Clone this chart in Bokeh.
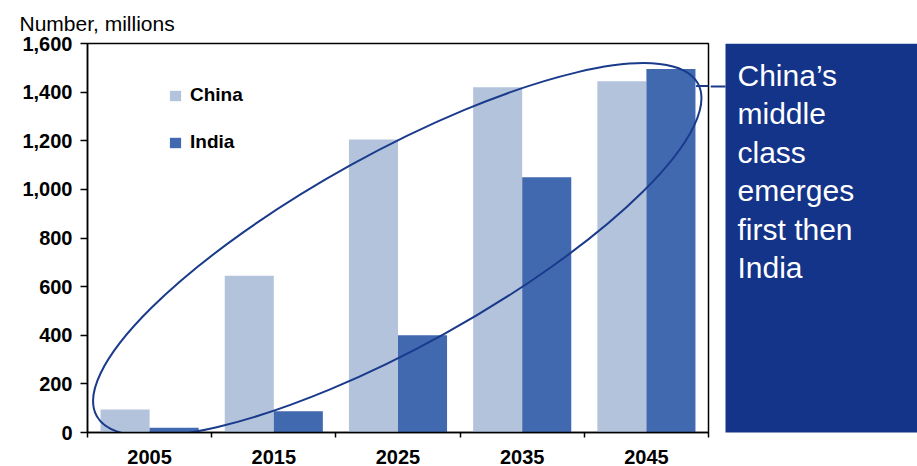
import numpy as np
from bokeh.plotting import figure
from bokeh.layouts import row
from bokeh.models import (Range1d, FixedTicker, NumeralTickFormatter, ColumnDataSource,
                          Legend, LegendItem)
from bokeh.transform import dodge
from bokeh.core.properties import value
from bokeh.embed import file_html
from bokeh.resources import INLINE

# ---- data ----
years = ["2005", "2015", "2025", "2035", "2045"]
china = [95, 645, 1205, 1420, 1445]
india = [20, 87, 400, 1050, 1495]
y_ticks = [0, 200, 400, 600, 800, 1000, 1200, 1400, 1600]
title_text = "Number, millions"
callout_lines = ["China\u2019s", "middle", "class", "emerges", "first then", "India"]

FONT = "Liberation Sans"
C_CHINA = "#b3c3dc"
C_INDIA = "#4169b0"
C_NAVY = "#14348a"
C_ELLIPSE = "#1a3a8c"

pos = np.arange(len(years)) + 0.5
src = ColumnDataSource(dict(x=pos, china=china, india=india))

p = figure(width=710, height=466, x_range=Range1d(0, 5), y_range=Range1d(0, 1600),
           output_backend="svg", toolbar_location=None, title=title_text,
           min_border_left=87, min_border_right=2, min_border_top=43, min_border_bottom=34)
p.background_fill_color = "white"
p.border_fill_color = "white"
p.outline_line_color = "black"
p.outline_line_width = 1.5
p.xgrid.visible = False
p.ygrid.visible = False

p.title.align = "left"
p.title.offset = -68
p.title.standoff = 18
p.title.text_font = FONT
p.title.text_font_style = "normal"
p.title.text_font_size = "21px"
p.title.text_color = "black"

r_china = p.vbar(x=dodge("x", -0.1975, range=p.x_range), top="china", width=0.395,
                 source=src, color=C_CHINA, line_color=None)
r_india = p.vbar(x=dodge("x", 0.1975, range=p.x_range), top="india", width=0.395,
                 source=src, color=C_INDIA, line_color=None)

# ellipse highlight
p.ellipse(x=2.494, y=752, width=687, height=193, width_units="screen", height_units="screen",
          angle=28.96, angle_units="deg", fill_color=None, line_color=C_ELLIPSE, line_width=2)
p.segment(x0=4.9, y0=1425, x1=5.0, y1=1425, line_color=C_ELLIPSE, line_width=2)

# axes
xa = p.xaxis[0]
xa.ticker = FixedTicker(ticks=list(pos), minor_ticks=list(range(len(years) + 1)))
xa.major_label_overrides = {float(v): y for v, y in zip(pos, years)}
xa.major_tick_line_color = None
xa.major_tick_out = 0
xa.major_tick_in = 0
xa.minor_tick_out = 5
xa.minor_tick_in = 0
xa.minor_tick_line_color = "black"
xa.minor_tick_line_width = 1.5
xa.axis_line_color = "black"
xa.axis_line_width = 1.5
xa.major_label_standoff = 12
xa.major_label_text_font = FONT
xa.major_label_text_font_style = "bold"
xa.major_label_text_font_size = "20px"
xa.major_label_text_color = "black"

ya = p.yaxis[0]
ya.ticker = FixedTicker(ticks=y_ticks, minor_ticks=[])
ya.formatter = NumeralTickFormatter(format="0,0")
ya.major_tick_out = 7
ya.major_tick_in = 0
ya.major_tick_line_width = 1.5
ya.axis_line_width = 1.5
ya.major_label_standoff = 8
ya.major_label_text_font = FONT
ya.major_label_text_font_style = "bold"
ya.major_label_text_font_size = "20px"
ya.major_label_text_color = "black"

# legend
legend = Legend(items=[LegendItem(label="China", renderers=[r_china]),
                       LegendItem(label="India", renderers=[r_india])],
                location=(81, 279), orientation="vertical")
legend.background_fill_alpha = 0
legend.border_line_color = None
legend.padding = 0
legend.margin = 0
legend.spacing = 25
legend.glyph_width = 14
legend.glyph_height = 13
legend.label_height = 20
legend.label_standoff = 8
legend.label_text_font = FONT
legend.label_text_font_style = "bold"
legend.label_text_font_size = "19px"
legend.label_text_color = "black"
p.add_layout(legend, "center")

# callout panel (frame aligned with main plot frame: page y 43..432)
p2 = figure(width=207, height=466, x_range=Range1d(0, 207), y_range=Range1d(432, 43),
            output_backend="svg", toolbar_location=None,
            min_border_left=0, min_border_right=0, min_border_top=43, min_border_bottom=34)
p2.axis.visible = False
p2.xgrid.visible = False
p2.ygrid.visible = False
p2.outline_line_color = None
p2.background_fill_color = "white"
p2.border_fill_color = "white"
p2.quad(left=15, right=207, top=43, bottom=436, fill_color=C_NAVY, line_color=None)
p2.segment(x0=0, y0=86, x1=15, y1=86, line_color=C_ELLIPSE, line_width=2)
baselines = [75 + 38.4 * i for i in range(len(callout_lines))]
p2.text(x=[27] * len(callout_lines), y=baselines, text=callout_lines,
        text_font=value(FONT), text_font_size="30px", text_color="white",
        text_baseline="alphabetic", text_align="left")

layout = row(p, p2, spacing=0)
open("out.html", "w").write(file_html(layout, INLINE))
